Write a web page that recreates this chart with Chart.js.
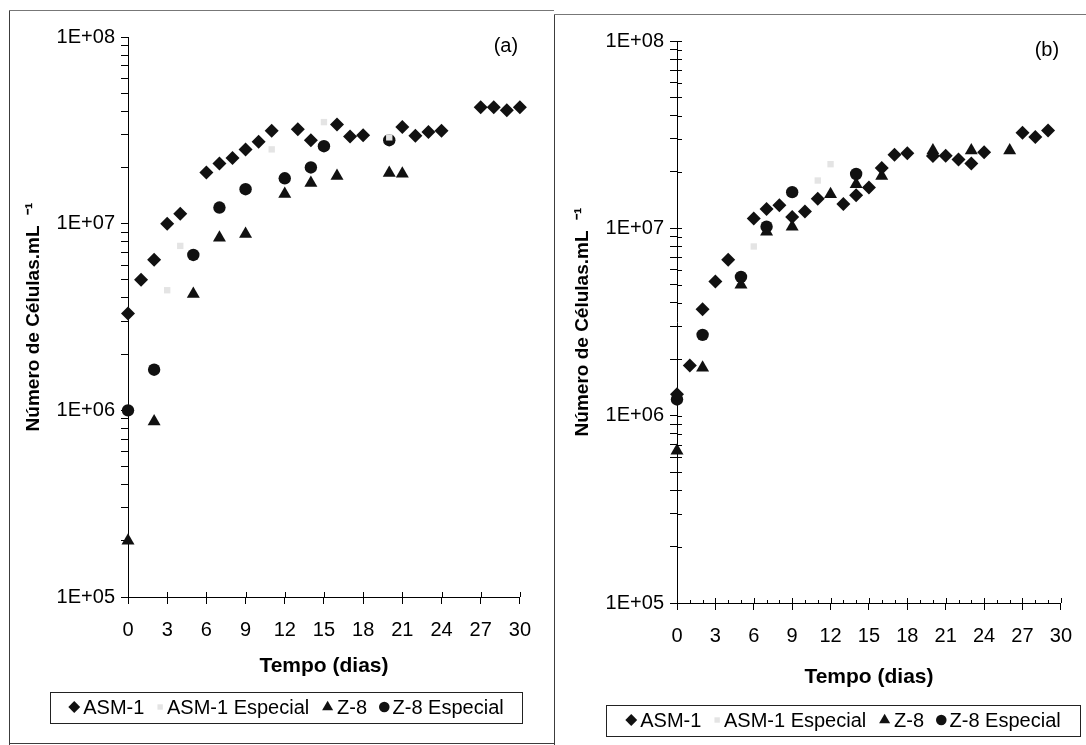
<!DOCTYPE html>
<html>
<head>
<meta charset="utf-8">
<script src="https://cdn.jsdelivr.net/npm/chart.js@4/dist/chart.umd.min.js"></script>
<style>
  body { margin: 0; background: #fff; }
  #page { position: relative; width: 1086px; height: 745px; overflow: hidden; background: #fff; }
  canvas { position: absolute; top: 0; }
  #chartA { left: 0; }
  #chartB { left: 545px; }
  .rule { position: absolute; background: #3c3c3c; }
</style>
</head>
<body>
<div id="page">
  <div class="rule" style="left:9px;top:10px;width:1px;height:735px"></div>
  <div class="rule" style="left:9px;top:10px;width:545px;height:1px;background:#777"></div>
  <div class="rule" style="left:9px;top:743px;width:545px;height:1px"></div>
  <div class="rule" style="left:554px;top:14px;width:1px;height:731px"></div>
  <div class="rule" style="left:554px;top:14px;width:532px;height:1px;background:#777"></div>
  <canvas id="chartA" width="545" height="745"></canvas>
  <canvas id="chartB" width="541" height="745"></canvas>
</div>
<script>
"use strict";

const seriesNames = ['ASM-1', 'ASM-1 Especial', 'Z-8', 'Z-8 Especial'];
const yTickLabels = ['1E+05', '1E+06', '1E+07', '1E+08'];

// panel (a)
const daysAsmA = [0, 1, 2, 3, 4, 6, 7, 8, 9, 10, 11, 13, 14, 16, 17, 18, 21, 22, 23, 24, 27, 28, 29, 30];
const cellsAsmA = [3.3e6, 5.0e6, 6.4e6, 1.0e7, 1.13e7, 1.88e7, 2.1e7, 2.25e7, 2.5e7, 2.75e7, 3.15e7, 3.2e7, 2.8e7,
    3.4e7, 2.93e7, 2.98e7, 3.3e7, 2.96e7, 3.1e7, 3.15e7, 4.2e7, 4.2e7, 4.05e7, 4.2e7];
const daysEspA = [3, 4, 11, 15, 20];
const cellsEspA = [4.4e6, 7.6e6, 2.5e7, 3.5e7, 2.9e7];
const daysZ8A = [0, 2, 5, 7, 9, 12, 14, 16, 20, 21];
const cellsZ8A = [2.0e5, 8.7e5, 4.2e6, 8.4e6, 8.8e6, 1.44e7, 1.65e7, 1.8e7, 1.87e7, 1.85e7];
const daysZ8EspA = [0, 2, 5, 7, 9, 12, 14, 15, 20];
const cellsZ8EspA = [1.0e6, 1.65e6, 6.8e6, 1.22e7, 1.53e7, 1.75e7, 2.0e7, 2.6e7, 2.8e7];

// panel (b)
const daysAsmB = [0, 1, 2, 3, 4, 6, 7, 8, 9, 10, 11, 13, 14, 15, 16, 17, 18, 20, 21, 22, 23, 24, 27, 28, 29];
const cellsAsmB = [1.3e6, 1.85e6, 3.7e6, 5.2e6, 6.8e6, 1.13e7, 1.27e7, 1.33e7, 1.15e7, 1.23e7, 1.44e7, 1.35e7, 1.5e7,
    1.65e7, 2.1e7, 2.47e7, 2.52e7, 2.43e7, 2.44e7, 2.33e7, 2.22e7, 2.55e7, 3.24e7, 3.07e7, 3.33e7];
const daysEspB = [6, 11, 12];
const cellsEspB = [8.0e6, 1.8e7, 2.2e7];
const daysZ8B = [0, 2, 5, 7, 9, 12, 14, 16, 20, 23, 26];
const cellsZ8B = [6.5e5, 1.8e6, 5.0e6, 9.6e6, 1.02e7, 1.52e7, 1.72e7, 1.9e7, 2.6e7, 2.6e7, 2.6e7];
const daysZ8EspB = [0, 2, 5, 7, 9, 14];
const cellsZ8EspB = [1.22e6, 2.7e6, 5.5e6, 1.02e7, 1.56e7, 1.95e7];

const markerStyles = [
    { pointStyle: 'rectRot', radius: 7, color: '#111' },
    { pointStyle: 'rect', radius: 4.5, color: '#e4e4e4' },
    { pointStyle: 'triangle', radius: 7.5, color: '#111' },
    { pointStyle: 'circle', radius: 6.2, color: '#111' }
];

Chart.defaults.font.family = '"Liberation Sans", Arial, sans-serif';
Chart.defaults.color = '#000';

const isPow10 = v => Math.abs(Math.log10(v) - Math.round(Math.log10(v))) < 1e-9;

// ticks that cross the axes + the panel letter
const innerTicks = {
    id: 'innerTicks',
    afterDraw(chart, args, opts) {
        const { ctx, chartArea: area, scales: { x, y } } = chart;
        ctx.save();
        ctx.strokeStyle = '#000';
        ctx.lineWidth = 1;
        ctx.beginPath();
        for (let d = x.min; d <= x.max; d++) {
            const major = d % 3 === 0;
            if (!major && !opts.minorDays) continue;
            const px = Math.round(x.getPixelForValue(d)) + 0.5;
            ctx.moveTo(px, area.bottom);
            ctx.lineTo(px, area.bottom - (major ? 5 : 3));
        }
        if (opts.yInner) {
            y.ticks.forEach(t => {
                const py = Math.round(y.getPixelForValue(t.value)) + 0.5;
                ctx.moveTo(area.left, py);
                ctx.lineTo(area.left + 5, py);
            });
        }
        ctx.stroke();
        ctx.fillStyle = '#000';
        ctx.font = '20px "Liberation Sans", Arial, sans-serif';
        ctx.textAlign = 'center';
        ctx.textBaseline = 'middle';
        ctx.fillText(opts.letter, area.right - 14, area.top + 9);
        ctx.restore();
    }
};

// legend inside a framed box
const boxLegend = {
    id: 'boxLegend',
    afterDraw(chart, args, opts) {
        const ctx = chart.ctx;
        ctx.save();
        ctx.font = '20px "Liberation Sans", Arial, sans-serif';
        ctx.textBaseline = 'middle';
        ctx.textAlign = 'left';
        const items = chart.data.datasets.map((ds, i) => ({ ds, st: markerStyles[i], w: ctx.measureText(ds.label).width }));
        const gap = 3, sep = 12;
        const total = items.reduce((s, it) => s + it.st.radius * 1.7 + gap + it.w, 0) + sep * (items.length - 1);
        ctx.strokeStyle = '#222';
        ctx.lineWidth = 1;
        ctx.strokeRect(Math.round(opts.cx - opts.w / 2) + 0.5, Math.round(opts.cy - opts.h / 2) + 0.5, opts.w, opts.h);
        let x = opts.cx - total / 2;
        items.forEach(it => {
            const r = it.st.radius * 0.85;
            ctx.fillStyle = it.st.color;
            Chart.helpers.drawPoint(ctx, { pointStyle: it.st.pointStyle, radius: r, rotation: 0, borderWidth: 0 }, x + r, opts.cy);
            x += 2 * r + gap;
            ctx.fillStyle = '#000';
            ctx.fillText(it.ds.label, x, opts.cy + 1);
            x += it.w + sep;
        });
        ctx.restore();
    }
};

function makePanel(id, series, cfg) {
    const datasets = series.map((s, i) => ({
        label: seriesNames[i],
        data: s.days.map((d, k) => ({ x: d, y: s.cells[k] })),
        pointStyle: markerStyles[i].pointStyle,
        pointRadius: markerStyles[i].radius,
        pointBackgroundColor: markerStyles[i].color,
        pointBorderWidth: 0,
        showLine: false,
        clip: false
    }));

    new Chart(document.getElementById(id), {
        type: 'scatter',
        data: { datasets },
        options: {
            responsive: false,
            animation: false,
            layout: { padding: { left: 0, top: cfg.top, right: cfg.right, bottom: cfg.bottom } },
            plugins: {
                legend: { display: false },
                tooltip: { enabled: false },
                innerTicks: cfg.inner,
                boxLegend: cfg.legend
            },
            scales: {
                x: {
                    type: 'linear',
                    min: 0,
                    max: 30,
                    afterFit: s => { s.height = cfg.xHeight; },
                    border: { color: '#000', width: 1 },
                    grid: { drawOnChartArea: false, tickLength: 7, color: '#000' },
                    ticks: { stepSize: 3, autoSkip: false, maxRotation: 0, padding: 14, font: { size: 20 } },
                    title: {
                        display: true,
                        text: 'Tempo (dias)',
                        font: { size: 21, weight: 'bold' },
                        padding: { top: 0, bottom: cfg.xTitlePad }
                    }
                },
                y: {
                    type: 'logarithmic',
                    min: 1e5,
                    max: 1e8,
                    afterFit: s => { s.width = cfg.yWidth; },
                    afterBuildTicks: s => {
                        s.ticks = s.ticks.filter(t => {
                            const m = t.value / Math.pow(10, Math.floor(Math.log10(t.value) + 1e-9));
                            return Math.abs(m - Math.round(m)) < 1e-6;
                        });
                    },
                    border: { color: '#000', width: 1 },
                    grid: { drawOnChartArea: false, tickLength: 7, color: '#000' },
                    ticks: {
                        autoSkip: false,
                        padding: 6,
                        font: { size: 20 },
                        callback: v => isPow10(v) ? yTickLabels[Math.round(Math.log10(v)) - 5] : ''
                    },
                    title: {
                        display: true,
                        text: 'Número de Células.mL  \u207B\u00B9',
                        font: { size: 19, weight: 'bold' },
                        padding: { top: cfg.yTitlePad, bottom: 0 }
                    }
                }
            }
        },
        plugins: [innerTicks, boxLegend]
    });
}

makePanel('chartA', [
    { days: daysAsmA, cells: cellsAsmA },
    { days: daysEspA, cells: cellsEspA },
    { days: daysZ8A, cells: cellsZ8A },
    { days: daysZ8EspA, cells: cellsZ8EspA }
], {
    top: 37, right: 17, bottom: 60, xHeight: 88, xTitlePad: 6, yWidth: 128, yTitlePad: 22,
    inner: { minorDays: false, yInner: false, letter: '(a)' },
    legend: { cx: 286, cy: 707, w: 472, h: 31 }
});

makePanel('chartB', [
    { days: daysAsmB, cells: cellsAsmB },
    { days: daysEspB, cells: cellsEspB },
    { days: daysZ8B, cells: cellsZ8B },
    { days: daysZ8EspB, cells: cellsZ8EspB }
], {
    top: 41, right: 20, bottom: 50, xHeight: 92, xTitlePad: 5, yWidth: 132, yTitlePad: 26,
    inner: { minorDays: true, yInner: true, letter: '(b)' },
    legend: { cx: 298, cy: 720, w: 474, h: 31 }
});
</script>
</body>
</html>
